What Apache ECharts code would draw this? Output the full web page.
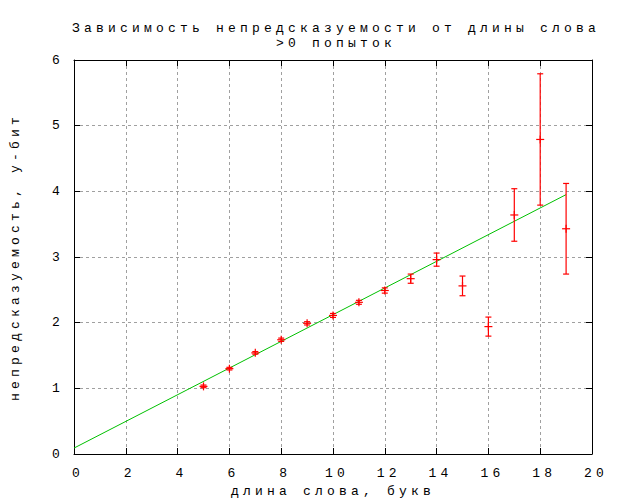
<!DOCTYPE html>
<html>
<head>
<meta charset="utf-8">
<script src="https://cdn.jsdelivr.net/npm/echarts@6/dist/echarts.min.js"></script>
<style>
html,body{margin:0;padding:0;background:#fff;}
#chart{width:625px;height:500px;}
#chart text{letter-spacing:4.2px;}
</style>
</head>
<body>
<div id="chart"></div>
<script>
// Data
var lengths = [5, 6, 7, 8, 9, 10, 11, 12, 13, 14, 15, 16, 17, 18, 19];
var values  = [1.03, 1.30, 1.54, 1.74, 1.99, 2.11, 2.31, 2.49, 2.67, 2.96, 2.56, 1.94, 3.64, 4.79, 3.43];
var errors  = [0.02, 0.02, 0.02, 0.025, 0.025, 0.03, 0.03, 0.04, 0.07, 0.10, 0.15, 0.145, 0.40, 1.00, 0.69];
var fitX = [0, 19];
var fitY = [0.09, 3.95];
var xTicks = [0, 2, 4, 6, 8, 10, 12, 14, 16, 18, 20];
var yTicks = [0, 1, 2, 3, 4, 5, 6];
var titleLines = ['Зависимость непредсказуемости от длины слова', '>0 попыток'];
var xName = 'длина слова, букв';
var yName = 'непредсказуемость, у-бит';

var FONT = 'Liberation Mono';
var errData = lengths.map(function (x, i) {
  return [x, values[i], values[i] - errors[i], values[i] + errors[i]];
});
var fitData = fitX.map(function (x, i) { return [x, fitY[i]]; });

var chart = echarts.init(document.getElementById('chart'), null, {renderer: 'svg'});

var baseX = {
  type: 'value', min: xTicks[0], max: xTicks[xTicks.length - 1], interval: 2,
  axisLine: {show: true, onZero: false, lineStyle: {color: '#000', width: 1}},
  axisTick: {show: true, inside: true, length: 6, lineStyle: {color: '#000'}},
  minorTick: {show: false}
};
var baseY = {
  type: 'value', min: yTicks[0], max: yTicks[yTicks.length - 1], interval: 1,
  axisLine: {show: true, onZero: false, lineStyle: {color: '#000', width: 1}},
  axisTick: {show: true, inside: true, length: 6, lineStyle: {color: '#000'}}
};

chart.setOption({
  animation: false,
  backgroundColor: '#fff',
  title: {
    text: titleLines.join('\n'),
    left: 331, top: 16, textAlign: 'center',
    textStyle: {fontFamily: FONT, fontSize: 13, fontWeight: 'normal', color: '#000', lineHeight: 15}
  },
  grid: {left: 74, right: 33, top: 60, bottom: 46, containLabel: false, outerBoundsMode: 'none'},
  xAxis: [
    Object.assign({}, baseX, {
      position: 'bottom',
      name: xName, nameLocation: 'middle', nameGap: 30,
      nameTextStyle: {fontFamily: FONT, fontSize: 13, color: '#000'},
      axisLabel: {show: true, margin: 13, fontFamily: FONT, fontSize: 13, color: '#000', padding: [0, 0, 0, 8]},
      splitLine: {show: true, lineStyle: {color: '#a0a0a0', type: [3, 3], width: 1}}
    }),
    Object.assign({}, baseX, {
      position: 'top',
      axisLabel: {show: false},
      splitLine: {show: false}
    })
  ],
  yAxis: [
    Object.assign({}, baseY, {
      position: 'left',
      name: yName, nameLocation: 'middle', nameGap: 52, nameRotate: 90,
      nameTextStyle: {fontFamily: FONT, fontSize: 13, color: '#000'},
      axisLabel: {show: true, margin: 10, fontFamily: FONT, fontSize: 13, color: '#000'},
      splitLine: {show: true, lineStyle: {color: '#a0a0a0', type: [3, 3], width: 1}}
    }),
    Object.assign({}, baseY, {
      position: 'right',
      axisLabel: {show: false},
      splitLine: {show: false}
    })
  ],
  series: [
    {
      type: 'line',
      data: fitData,
      xAxisIndex: 0, yAxisIndex: 0,
      showSymbol: false, symbol: 'none',
      lineStyle: {color: '#00c000', width: 1},
      z: 2
    },
    {
      type: 'custom',
      xAxisIndex: 0, yAxisIndex: 0,
      data: errData,
      z: 3,
      renderItem: function (params, api) {
        var x = api.value(0);
        var c = api.coord([x, api.value(1)]);
        var lo = api.coord([x, api.value(2)]);
        var hi = api.coord([x, api.value(3)]);
        var st = {stroke: '#ff0000', lineWidth: 1.2};
        var cap = 3, mk = 4;
        return {
          type: 'group',
          children: [
            {type: 'line', shape: {x1: lo[0], y1: lo[1], x2: hi[0], y2: hi[1]}, style: st},
            {type: 'line', shape: {x1: lo[0] - cap, y1: lo[1], x2: lo[0] + cap, y2: lo[1]}, style: st},
            {type: 'line', shape: {x1: hi[0] - cap, y1: hi[1], x2: hi[0] + cap, y2: hi[1]}, style: st},
            {type: 'line', shape: {x1: c[0] - mk, y1: c[1], x2: c[0] + mk, y2: c[1]}, style: st},
            {type: 'line', shape: {x1: c[0], y1: c[1] - mk, x2: c[0], y2: c[1] + mk}, style: st}
          ]
        };
      }
    }
  ]
});
</script>
</body>
</html>
